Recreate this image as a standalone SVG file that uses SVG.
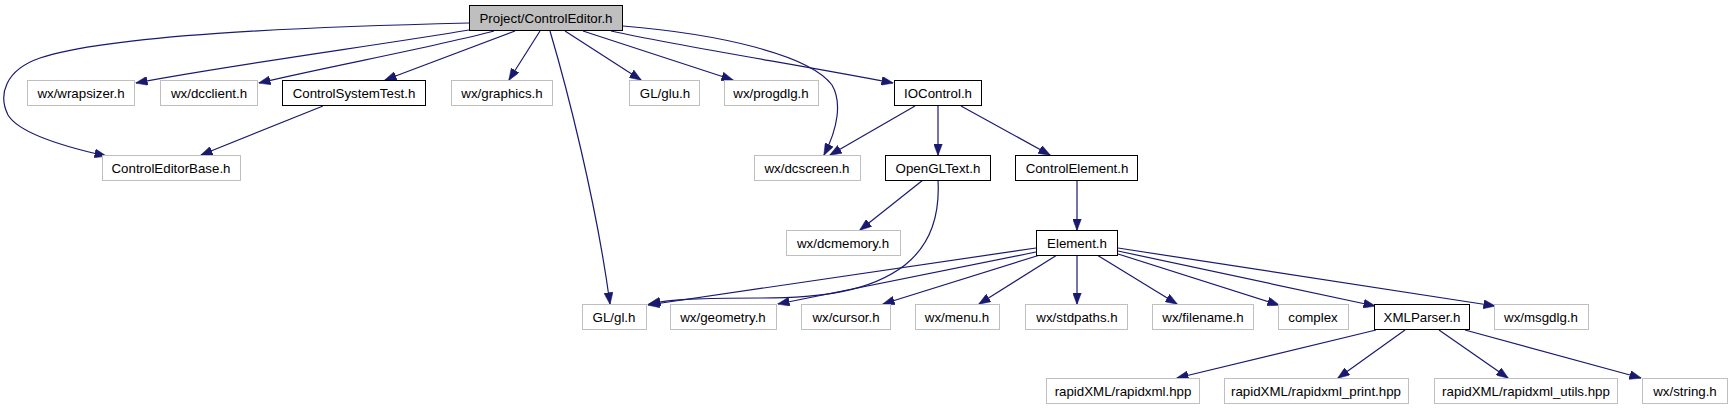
<svg xmlns="http://www.w3.org/2000/svg" width="1733" height="411" viewBox="0 0 1733 411">
<style>
.n rect{fill:#fff;stroke:#bfbfbf;stroke-width:1}
.n.b rect{stroke:#000}
.n.r rect{fill:#bfbfbf;stroke:#000}
.n text{font-family:"Liberation Sans",Arial,sans-serif;font-size:13.3px;fill:#000;text-anchor:middle}
#edges path{fill:none;stroke:#191970;stroke-width:1.2;marker-end:url(#ah)}
</style>
<defs>
<marker id="ah" viewBox="0 0 12 9" refX="11.5" refY="4.5" markerWidth="12" markerHeight="9" markerUnits="userSpaceOnUse" orient="auto">
<path d="M0,0 L12,4.5 L0,9 z" fill="#191970" stroke="#191970" stroke-width="0.5"/>
</marker>
</defs>
<rect width="1733" height="411" fill="#fff"/>
<g id="edges">
<path d="M469,23 C300,27 110,35 40,58 C5,70 -2,95 8,115 C20,135 70,148 106,156"/>
<path d="M469,30 C380,45 230,65 136,83"/>
<path d="M494,31 C430,48 330,66 259,83"/>
<path d="M515,31 L385,80"/>
<path d="M540,31 L509,80"/>
<path d="M550,31 C566,85 596,200 610,304"/>
<path d="M565,31 L641,80"/>
<path d="M583,31 L733,80"/>
<path d="M611,31 C690,48 800,65 893,83"/>
<path d="M623,26 C720,34 810,55 832,85 C842,102 838,128 824,155"/>
<path d="M915,106 L830,155"/>
<path d="M938,106 L938,155"/>
<path d="M961,106 L1050,155"/>
<path d="M323,106 L201,155"/>
<path d="M923,180 L860,230"/>
<path d="M938,180 C940,215 930,245 905,265 C870,292 820,298 760,298 C700,298 672,299 649,304"/>
<path d="M1036,248 L648,305"/>
<path d="M1036,252 L778,304"/>
<path d="M1040,255 L883,304"/>
<path d="M1057,255 L979,304"/>
<path d="M1077,255 L1077,304"/>
<path d="M1097,255 L1177,304"/>
<path d="M1118,254 L1279,305"/>
<path d="M1118,251 L1375,306"/>
<path d="M1118,248 L1495,306"/>
<path d="M1077,180 L1077,230"/>
<path d="M1376,330 L1177,378"/>
<path d="M1405,330 L1338,378"/>
<path d="M1439,330 L1508,378"/>
<path d="M1465,330 L1641,378"/>
</g>
<g id="n_project" class="n r"><rect x="469.5" y="5.5" width="153" height="25"/><text x="546" y="23">Project/ControlEditor.h</text></g>
<g id="n_wrapsizer" class="n"><rect x="27.5" y="80.5" width="107" height="25"/><text x="81" y="98">wx/wrapsizer.h</text></g>
<g id="n_dcclient" class="n"><rect x="160.5" y="80.5" width="97" height="25"/><text x="209" y="98">wx/dcclient.h</text></g>
<g id="n_controlsystemtest" class="n b"><rect x="282.5" y="80.5" width="143" height="25"/><text x="354" y="98">ControlSystemTest.h</text></g>
<g id="n_graphics" class="n"><rect x="451.5" y="80.5" width="101" height="25"/><text x="502" y="98">wx/graphics.h</text></g>
<g id="n_glu" class="n"><rect x="629.5" y="80.5" width="70" height="25"/><text x="665" y="98">GL/glu.h</text></g>
<g id="n_progdlg" class="n"><rect x="724.5" y="80.5" width="94" height="25"/><text x="771" y="98">wx/progdlg.h</text></g>
<g id="n_iocontrol" class="n b"><rect x="894.5" y="80.5" width="87" height="25"/><text x="938" y="98">IOControl.h</text></g>
<g id="n_controleditorbase" class="n"><rect x="102.5" y="155.5" width="138" height="25"/><text x="171" y="173">ControlEditorBase.h</text></g>
<g id="n_dcscreen" class="n"><rect x="754.5" y="155.5" width="106" height="25"/><text x="807" y="173">wx/dcscreen.h</text></g>
<g id="n_opengltext" class="n b"><rect x="885.5" y="155.5" width="105" height="25"/><text x="938" y="173">OpenGLText.h</text></g>
<g id="n_controlelement" class="n b"><rect x="1015.5" y="155.5" width="122" height="25"/><text x="1077" y="173">ControlElement.h</text></g>
<g id="n_dcmemory" class="n"><rect x="786.5" y="230.5" width="114" height="25"/><text x="843" y="248">wx/dcmemory.h</text></g>
<g id="n_element" class="n b"><rect x="1036.5" y="230.5" width="81" height="25"/><text x="1077" y="248">Element.h</text></g>
<g id="n_gl" class="n"><rect x="582.5" y="304.5" width="64" height="25"/><text x="614" y="322">GL/gl.h</text></g>
<g id="n_geometry" class="n"><rect x="670.5" y="304.5" width="106" height="25"/><text x="723" y="322">wx/geometry.h</text></g>
<g id="n_cursor" class="n"><rect x="801.5" y="304.5" width="89" height="25"/><text x="846" y="322">wx/cursor.h</text></g>
<g id="n_menu" class="n"><rect x="915.5" y="304.5" width="84" height="25"/><text x="957" y="322">wx/menu.h</text></g>
<g id="n_stdpaths" class="n"><rect x="1025.5" y="304.5" width="102" height="25"/><text x="1077" y="322">wx/stdpaths.h</text></g>
<g id="n_filename" class="n"><rect x="1152.5" y="304.5" width="101" height="25"/><text x="1203" y="322">wx/filename.h</text></g>
<g id="n_complex" class="n"><rect x="1278.5" y="304.5" width="70" height="25"/><text x="1313" y="322">complex</text></g>
<g id="n_xmlparser" class="n b"><rect x="1374.5" y="304.5" width="95" height="25"/><text x="1422" y="322">XMLParser.h</text></g>
<g id="n_msgdlg" class="n"><rect x="1494.5" y="304.5" width="94" height="25"/><text x="1541" y="322">wx/msgdlg.h</text></g>
<g id="n_rapidxml" class="n"><rect x="1046.5" y="378.5" width="153" height="25"/><text x="1123" y="396">rapidXML/rapidxml.hpp</text></g>
<g id="n_rapidxml_print" class="n"><rect x="1224.5" y="378.5" width="184" height="25"/><text x="1316" y="396">rapidXML/rapidxml_print.hpp</text></g>
<g id="n_rapidxml_utils" class="n"><rect x="1434.5" y="378.5" width="183" height="25"/><text x="1526" y="396">rapidXML/rapidxml_utils.hpp</text></g>
<g id="n_string" class="n"><rect x="1642.5" y="378.5" width="85" height="25"/><text x="1685" y="396">wx/string.h</text></g>
</svg>
